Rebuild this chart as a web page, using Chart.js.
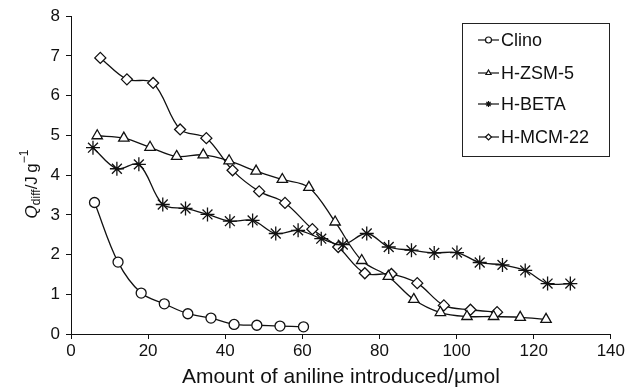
<!DOCTYPE html>
<html>
<head>
<meta charset="utf-8">
<script src="https://cdn.jsdelivr.net/npm/chart.js@4/dist/chart.umd.min.js"></script>
<style>
  html, body { margin: 0; padding: 0; background: #fff; }
  #wrap { width: 627px; height: 390px; }
</style>
</head>
<body>
<div id="wrap"><canvas id="heatchart" width="627" height="390"></canvas></div>
<script>
// amount of aniline introduced (umol) and differential heat (J/g)
var clinoX = [6.1, 12.2, 18.2, 24.2, 30.3, 36.3, 42.3, 48.2, 54.2, 60.3];
var clinoY = [3.31, 1.81, 1.03, 0.76, 0.51, 0.40, 0.24, 0.22, 0.20, 0.18];

var zsmX = [6.8, 13.7, 20.5, 27.4, 34.3, 41.0, 48.0, 54.8, 61.7, 68.5, 75.4, 82.3, 88.9, 95.8, 102.7, 109.6, 116.5, 123.2];
var zsmY = [4.99, 4.93, 4.70, 4.47, 4.51, 4.36, 4.10, 3.89, 3.69, 2.82, 1.85, 1.45, 0.87, 0.54, 0.44, 0.44, 0.42, 0.37];

var betaX = [5.7, 11.9, 17.6, 23.8, 29.7, 35.4, 41.2, 47.1, 53.1, 58.9, 64.9, 70.5, 76.7, 82.4, 88.3, 94.2, 100.1, 106.0, 111.9, 117.8, 123.6, 129.5];
var betaY = [4.69, 4.16, 4.27, 3.26, 3.16, 3.01, 2.84, 2.86, 2.53, 2.61, 2.40, 2.25, 2.53, 2.19, 2.11, 2.04, 2.05, 1.80, 1.74, 1.60, 1.27, 1.27];

var mcmX = [7.6, 14.5, 21.3, 28.3, 35.1, 41.9, 48.8, 55.5, 62.6, 69.3, 76.2, 83.1, 89.8, 96.7, 103.6, 110.5];
var mcmY = [6.95, 6.41, 6.32, 5.15, 4.93, 4.12, 3.59, 3.30, 2.64, 2.19, 1.53, 1.51, 1.28, 0.72, 0.61, 0.55];

var seriesNames = ["Clino", "H-ZSM-5", "H-BETA", "H-MCM-22"];
var markers = ["circle", "triangle", "star", "rectRot"];

function pts(xs, ys) {
  return xs.map(function(x, i) { return {x: x, y: ys[i]}; });
}

var allX = [clinoX, zsmX, betaX, mcmX];
var allY = [clinoY, zsmY, betaY, mcmY];
var markerSize = [5, 6, 7, 5.5];

var datasets = seriesNames.map(function(name, i) {
  return {
    label: name,
    data: pts(allX[i], allY[i]),
    borderColor: "#111",
    backgroundColor: "#fff",
    borderWidth: 1.3,
    pointStyle: markers[i],
    pointRadius: markerSize[i],
    pointBorderWidth: 1.3,
    pointBorderColor: "#111",
    pointBackgroundColor: "#fff",
    tension: 0.35,
    fill: false
  };
});

var fam = "'Liberation Sans', Arial, sans-serif";

// legend with a little line through each marker, inside a plain box
var boxLegend = {
  id: "boxLegend",
  afterDraw: function(chart) {
    var ctx = chart.ctx;
    var left = 462, top = 23, right = 609, bottom = 156;
    var rows = [40, 73, 104, 137];
    ctx.save();
    ctx.fillStyle = "#fff";
    ctx.fillRect(left, top, right - left, bottom - top);
    ctx.strokeStyle = "#222";
    ctx.lineWidth = 1;
    ctx.strokeRect(left + 0.5, top + 0.5, right - left, bottom - top);
    ctx.font = "18px " + fam;
    ctx.textBaseline = "middle";
    chart.data.datasets.forEach(function(ds, i) {
      var y = rows[i];
      ctx.strokeStyle = "#111";
      ctx.lineWidth = 1.2;
      ctx.beginPath();
      ctx.moveTo(478, y);
      ctx.lineTo(499, y);
      ctx.stroke();
      ctx.fillStyle = "#fff";
      Chart.helpers.drawPoint(ctx, {pointStyle: ds.pointStyle, radius: 3, borderWidth: 1}, 488.5, y);
      ctx.fillStyle = "#111";
      ctx.fillText(ds.label, 501, y + 1);
    });
    ctx.restore();
  }
};

// y title with italic Q, subscript diff and superscript -1
var yTitle = {
  id: "yTitle",
  afterDraw: function(chart) {
    var ctx = chart.ctx;
    var parts = [
      {t: "Q", f: "italic 17px " + fam, dy: 0},
      {t: "diff", f: "12px " + fam, dy: 5},
      {t: "/J\u2009g", f: "17px " + fam, dy: 0},
      {t: "\u22121", f: "12px " + fam, dy: -7}
    ];
    ctx.save();
    ctx.translate(32, 184);
    ctx.rotate(-Math.PI / 2);
    ctx.fillStyle = "#111";
    ctx.textBaseline = "middle";
    var total = 0;
    parts.forEach(function(p) { ctx.font = p.f; p.w = ctx.measureText(p.t).width; total += p.w; });
    var x = -total / 2;
    parts.forEach(function(p) {
      ctx.font = p.f;
      ctx.fillText(p.t, x, p.dy);
      x += p.w;
    });
    ctx.restore();
  }
};

var tickFont = {family: fam, size: 17};

var ctx = document.getElementById("heatchart").getContext("2d");
var heatchart = new Chart(ctx, {
  type: "line",
  data: {datasets: datasets},
  options: {
    responsive: false,
    animation: false,
    layout: {padding: {top: 16, right: 15, bottom: 0, left: 0}},
    plugins: {legend: {display: false}, tooltip: {enabled: false}},
    scales: {
      x: {
        type: "linear",
        min: 0, max: 140,
        ticks: {stepSize: 20, color: "#111", font: tickFont, padding: 2, maxRotation: 0},
        grid: {drawOnChartArea: false, tickLength: 5, color: "#111"},
        border: {color: "#111", width: 1},
        title: {display: true, text: "Amount of aniline introduced/\u00b5mol", color: "#111",
                font: {family: fam, size: 21}, padding: {top: 0, bottom: 0}},
        afterFit: function(s) { s.height = 56; }
      },
      y: {
        min: 0, max: 8,
        ticks: {stepSize: 1, color: "#111", font: tickFont, padding: 6},
        grid: {drawOnChartArea: false, tickLength: 5, color: "#111"},
        border: {color: "#111", width: 1},
        afterFit: function(s) { s.width = 71; }
      }
    }
  },
  plugins: [boxLegend, yTitle]
});
</script>
</body>
</html>
